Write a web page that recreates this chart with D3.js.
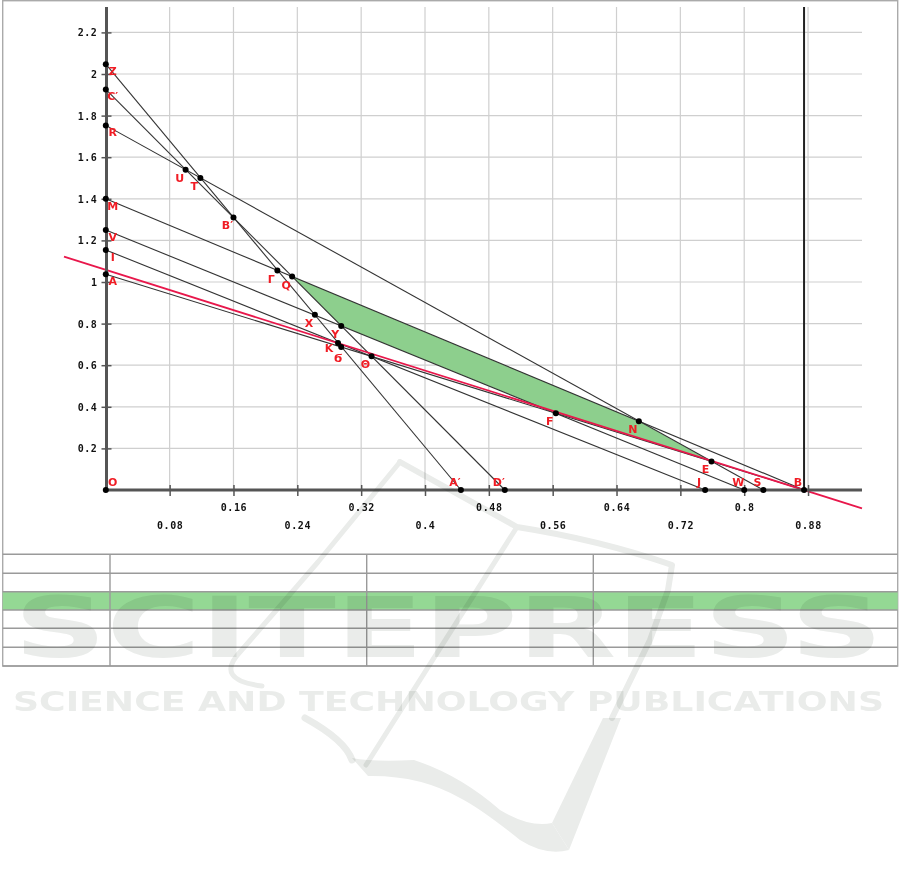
<!DOCTYPE html>
<html><head><meta charset="utf-8">
<script src="https://cdn.jsdelivr.net/npm/d3@7"></script>
<style>body{margin:0;background:#fff}svg{display:block}</style>
</head><body>
<svg id="c" width="901" height="886"></svg>
<script>
// ---------- data ----------
const xTicks = [0.08,0.16,0.24,0.32,0.40,0.48,0.56,0.64,0.72,0.80,0.88];
const xTickLabels = ["0.08","0.16","0.24","0.32","0.4","0.48","0.56","0.64","0.72","0.8","0.88"];
const yTicks = [0.2,0.4,0.6,0.8,1.0,1.2,1.4,1.6,1.8,2.0,2.2];
const yTickLabels = ["0.2","0.4","0.6","0.8","1","1.2","1.4","1.6","1.8","2","2.2"];

const pointNames = ["O","Z","C′","R","M","V","I","A","U","T","B′","Γ","Q","X","Y","K","Ϭ","Θ","F","N","E","J","W","S","B","A′","D′"];
const pointX = [0,0,0,0,0,0,0,0,0.100,0.1185,0.160,0.215,0.2335,0.262,0.295,0.291,0.295,0.333,0.564,0.668,0.759,0.751,0.800,0.824,0.875,0.445,0.500];
const pointY = [0,2.047,1.926,1.753,1.400,1.250,1.154,1.037,1.540,1.500,1.310,1.055,1.026,0.842,0.789,0.707,0.688,0.643,0.369,0.331,0.137,0,0,0,0,0,0];

const constraintFrom = ["Z","C′","R","M","V","I","A"];
const constraintTo   = ["A′","D′","S","B","W","J","B"];
const feasibleRegion = ["Q","N","E","F","Y"];
const objectiveX = [-0.0524, 0.9476];
const objectiveY = [1.1216, -0.088];
const boundX = 0.875;
const plotXMax = 0.9476, plotYMax = 2.322;

// ---------- setup ----------
const svg = d3.select("#c");
const x = d3.scaleLinear().domain([0,0.88]).range([105.8,808.04]);
const y = d3.scaleLinear().domain([0,2.2]).range([490,32.4]);
const P = {};
pointNames.forEach((n,i)=>P[n]={name:n,x:pointX[i],y:pointY[i]});

// outer frame and table
svg.append("rect").attr("x",2.7).attr("y",0.7).attr("width",895).attr("height",665.3)
  .attr("fill","none").attr("stroke","#aaa").attr("stroke-width",1.4);
const tableRowsY = [554.3,573.3,591.7,610,628.3,647.3,666];
const tableColsX = [2.7,110,366.7,593.3,897.7];
svg.append("rect").attr("x",tableColsX[0]).attr("y",tableRowsY[2]).attr("width",tableColsX[4]-tableColsX[0])
  .attr("height",tableRowsY[3]-tableRowsY[2]).attr("fill","#94d894");
const tg = svg.append("g").attr("stroke","#9a9a9a").attr("stroke-width",1.4);
tableRowsY.forEach(r=>tg.append("line").attr("x1",tableColsX[0]).attr("x2",tableColsX[4]).attr("y1",r).attr("y2",r));
tableColsX.slice(1,4).forEach(c=>tg.append("line").attr("x1",c).attr("x2",c).attr("y1",tableRowsY[0]).attr("y2",tableRowsY[6]));

// grid
const plotTop = y(plotYMax), plotRight = x(plotXMax);
const grid = svg.append("g").attr("stroke","#cfcfcf").attr("stroke-width",1.2);
grid.selectAll("line.v").data(xTicks).join("line").attr("class","v")
  .attr("x1",d=>x(d)).attr("x2",d=>x(d)).attr("y1",plotTop).attr("y2",y(0));
grid.selectAll("line.h").data(yTicks).join("line").attr("class","h")
  .attr("x1",x(0)).attr("x2",plotRight).attr("y1",d=>y(d)).attr("y2",d=>y(d));

// feasible region
svg.append("path")
  .attr("d", d3.line().x(d=>x(d.x)).y(d=>y(d.y))(feasibleRegion.map(n=>P[n]))+"Z")
  .attr("fill","#8dcf8d");

// constraint lines
svg.append("g").selectAll("line").data(constraintFrom.map((f,i)=>[P[f],P[constraintTo[i]]])).join("line")
  .attr("x1",d=>x(d[0].x)).attr("y1",d=>y(d[0].y)).attr("x2",d=>x(d[1].x)).attr("y2",d=>y(d[1].y))
  .attr("stroke","#333").attr("stroke-width",1.1);

// objective line
svg.append("line").attr("x1",x(objectiveX[0])).attr("y1",y(objectiveY[0]))
  .attr("x2",x(objectiveX[1])).attr("y2",y(objectiveY[1]))
  .attr("stroke","#e8174b").attr("stroke-width",1.8);

// axes lines
svg.append("line").attr("x1",x(0)+0.7).attr("x2",x(0)+0.7).attr("y1",plotTop).attr("y2",y(0)+1.5)
  .attr("stroke","#555").attr("stroke-width",3);
svg.append("line").attr("x1",x(0)).attr("x2",plotRight).attr("y1",y(0)).attr("y2",y(0))
  .attr("stroke","#555").attr("stroke-width",3);
svg.append("line").attr("x1",x(boundX)).attr("x2",x(boundX)).attr("y1",plotTop).attr("y2",y(0))
  .attr("stroke","#222").attr("stroke-width",2);

// axes ticks + labels
const tickFont = "'DejaVu Sans Mono', monospace";
const yAx = svg.append("g").attr("transform",`translate(${x(0)+0.7},0)`)
  .call(d3.axisLeft(y).tickValues(yTicks).tickFormat((d,i)=>yTickLabels[i]).tickSizeInner(5).tickSizeOuter(0).tickPadding(4));
yAx.select(".domain").remove();
yAx.selectAll(".tick line").attr("x1",5).attr("stroke","#555").attr("stroke-width",1.5);
yAx.selectAll(".tick text").attr("font-family",tickFont).attr("font-weight","bold").attr("font-size",10)
  .attr("letter-spacing","0.6px").attr("fill","#111").attr("dy","0.35em");

const xAx = svg.append("g").attr("transform",`translate(0,${y(0)})`)
  .call(d3.axisBottom(x).tickValues(xTicks).tickFormat((d,i)=>xTickLabels[i]).tickSizeInner(6).tickSizeOuter(0));
xAx.select(".domain").remove();
xAx.selectAll(".tick line").attr("y1",-5).attr("stroke","#555").attr("stroke-width",1.5);
xAx.selectAll(".tick text").attr("font-family",tickFont).attr("font-weight","bold").attr("font-size",10)
  .attr("letter-spacing","0.6px").attr("fill","#111")
  .attr("y",(d,i)=>i%2===0?35:17.3).attr("dy","0.35em");

// points
const pts = pointNames.map(n=>P[n]);
svg.append("g").selectAll("circle").data(pts).join("circle")
  .attr("cx",d=>x(d.x)).attr("cy",d=>y(d.y)).attr("r",3).attr("fill","#000");

// labels
const nudge = {"K":[-3,-2.5], "Ϭ":[3,3]};
function off(d){
  let o;
  if(d.x===0 && d.y===0) o=[7,-8];
  else if(d.x===0) o=[7,7];
  else if(d.y===0) o=[-6,-8];
  else o=[-6,8];
  const n = nudge[d.name]||[0,0];
  return [o[0]+n[0], o[1]+n[1]];
}
svg.append("g").selectAll("text").data(pts).join("text")
  .attr("x",d=>x(d.x)+off(d)[0]).attr("y",d=>y(d.y)+off(d)[1])
  .attr("text-anchor","middle").attr("dy","0.36em")
  .attr("font-family","'DejaVu Sans', sans-serif").attr("font-weight","bold").attr("font-size",11)
  .attr("fill","#f01c24").text(d=>d.name);

// watermark (multiply overlay)
const wmColor = "#eaecea";
const wm = svg.append("g").style("mix-blend-mode","multiply").attr("fill",wmColor).attr("stroke","none");
const wmStroke = svg.append("g").style("mix-blend-mode","multiply").attr("fill","none").attr("stroke",wmColor)
  .attr("stroke-linecap","round").attr("stroke-linejoin","round");
wmStroke.append("path").attr("d","M400,462 L318,562 L280,606 L240,652 Q214,680 262,686").attr("stroke-width",5);
wmStroke.append("path").attr("d","M400,462 L517,527 Q600,540 672,565 L668,590 L650,640 L612,718").attr("stroke-width",6);
wmStroke.append("path").attr("d","M517,527 L366,765").attr("stroke-width",5);
wmStroke.append("path").attr("d","M305,718 Q345,740 352,760").attr("stroke-width",7);
wm.append("path").attr("d","M603,718 L621,718 L569,850 L552,823 Z");
wm.append("path").attr("d","M352,758 Q372,762 414,760 Q460,775 500,810 Q530,828 552,823 L569,850 Q545,856 520,840 Q480,808 460,798 Q420,775 368,776 Z");
wm.append("text").attr("x",14).attr("y",657).attr("font-family","'DejaVu Sans', sans-serif").attr("font-weight","bold")
  .attr("font-size",84).attr("textLength",869).attr("lengthAdjust","spacingAndGlyphs").text("SCITEPRESS");
wm.append("text").attr("x",13).attr("y",711).attr("font-family","'DejaVu Sans', sans-serif").attr("font-weight","bold")
  .attr("font-size",26).attr("textLength",871).attr("lengthAdjust","spacingAndGlyphs").text("SCIENCE AND TECHNOLOGY PUBLICATIONS");
</script>
</body></html>
